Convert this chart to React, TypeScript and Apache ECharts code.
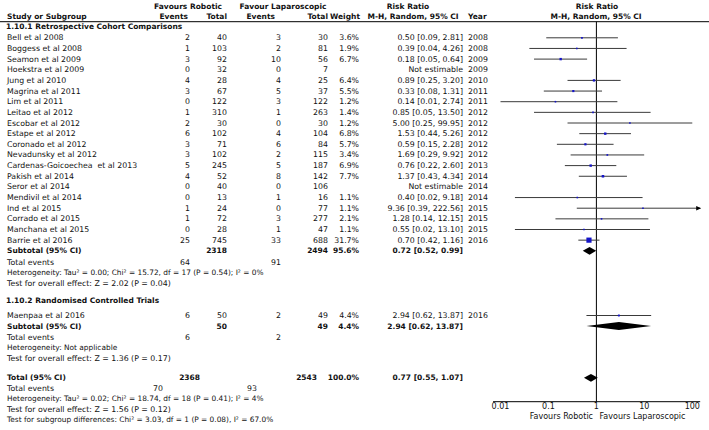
import React, { useEffect, useRef } from "react";
import * as echarts from "echarts";

// ---------- Data ----------
const studies = [
  "Bell et al 2008",
  "Boggess et al 2008",
  "Seamon et al 2009",
  "Hoekstra et al 2009",
  "Jung et al 2010",
  "Magrina et al 2011",
  "Lim et al 2011",
  "Leitao et al 2012",
  "Escobar et al 2012",
  "Estape et al 2012",
  "Coronado et al 2012",
  "Nevadunsky et al 2012",
  "Cardenas-Goicoechea  et al 2013",
  "Pakish et al 2014",
  "Seror et al 2014",
  "Mendivil et al 2014",
  "Ind et al 2015",
  "Corrado et al 2015",
  "Manchana et al 2015",
  "Barrie et al 2016",
];
const eventsRobotic = [2, 1, 3, 0, 4, 3, 0, 1, 2, 6, 3, 3, 5, 4, 0, 0, 1, 1, 0, 25];
const totalRobotic = [40, 103, 92, 32, 28, 67, 122, 310, 30, 102, 71, 102, 245, 52, 40, 13, 24, 72, 28, 745];
const eventsLap = [3, 2, 10, 0, 4, 5, 3, 1, 0, 4, 6, 2, 5, 8, 0, 1, 0, 3, 1, 33];
const totalLap = [30, 81, 56, 7, 25, 37, 122, 263, 30, 104, 84, 115, 187, 142, 106, 16, 77, 277, 47, 688];
const weights = [3.6, 1.9, 6.7, null, 6.4, 5.5, 1.2, 1.4, 1.2, 6.8, 5.7, 3.4, 6.9, 7.7, null, 1.1, 1.1, 2.1, 1.1, 31.7];
const riskRatio = [0.5, 0.39, 0.18, null, 0.89, 0.33, 0.14, 0.85, 5.0, 1.53, 0.59, 1.69, 0.76, 1.37, null, 0.4, 9.36, 1.28, 0.55, 0.7];
const ciLow = [0.09, 0.04, 0.05, null, 0.25, 0.08, 0.01, 0.05, 0.25, 0.44, 0.15, 0.29, 0.22, 0.43, null, 0.02, 0.39, 0.14, 0.02, 0.42];
const ciHigh = [2.81, 4.26, 0.64, null, 3.2, 1.31, 2.74, 13.5, 99.95, 5.26, 2.28, 9.92, 2.6, 4.34, null, 9.18, 222.56, 12.15, 13.1, 1.16];
const years = [2008, 2008, 2009, 2009, 2010, 2011, 2011, 2012, 2012, 2012, 2012, 2012, 2013, 2014, 2014, 2014, 2015, 2015, 2015, 2016];

const rctStudies = ["Maenpaa et al 2016"];
const rctEventsRobotic = [6];
const rctTotalRobotic = [50];
const rctEventsLap = [2];
const rctTotalLap = [49];
const rctWeights = [4.4];
const rctRiskRatio = [2.94];
const rctLow = [0.62];
const rctHigh = [13.87];
const rctYears = [2016];

// summaries: [cohort subtotal, RCT subtotal, overall]
const summaryTotalRobotic = [2318, 50, 2368];
const summaryTotalLap = [2494, 49, 2543];
const summaryWeight = [95.6, 4.4, 100.0];
const summaryRR = [0.72, 2.94, 0.77];
const summaryLow = [0.52, 0.62, 0.55];
const summaryHigh = [0.99, 13.87, 1.07];
const summaryEventsRobotic = [64, 6, 70];
const summaryEventsLap = [91, 2, 93];
const heterogeneityText = [
  "Heterogeneity: Tau² = 0.00; Chi² = 15.72, df = 17 (P = 0.54); I² = 0%",
  "Heterogeneity: Not applicable",
  "Heterogeneity: Tau² = 0.02; Chi² = 18.74, df = 18 (P = 0.41); I² = 4%",
];
const overallEffectText = [
  "Test for overall effect: Z = 2.02 (P = 0.04)",
  "Test for overall effect: Z = 1.36 (P = 0.17)",
  "Test for overall effect: Z = 1.56 (P = 0.12)",
];
const subgroupText = "Test for subgroup differences: Chi² = 3.03, df = 1 (P = 0.08), I² = 67.0%";
const axisTicks = [0.01, 0.1, 1, 10, 100];

// ---------- Layout ----------
const W = 709;
const H = 430;
const AXIS_Y = 401.7;
const PLOT_LEFT = 500.5;
const PLOT_RIGHT = 692.3;
const X_MIN = 0.007; // plot drawing range (axis line extent)
const X_MAX = 146;
const FONT = '"DejaVu Sans", sans-serif';
const FS = 7.8;
const FS_BOLD = 7.5;
const FS_STAT = 7.4;
const TEXT = "#111";

const ROW = {
  head1: 6,
  head2: 16,
  rule: 21.7,
  sec1: 26,
  first: 37.8,
  step: 10.65,
  sub1: 250.8,
  totEv1: 262.3,
  het1: 272.8,
  test1: 283.3,
  sec2: 300.7,
  rct: 315.5,
  sub2: 326,
  totEv2: 337.3,
  het2: 347.8,
  test2: 358.3,
  total: 377.8,
  totEv3: 388.2,
  het3: 398.6,
  test3: 409,
  subgroup: 419.5,
};

const COL = {
  name: 7,
  evR: 190,
  totR: 227,
  evL: 281,
  totL: 328,
  w: 359,
  rr: 463,
  year: 468,
};

const fmt2 = (v: number) => v.toFixed(2);
const ciText = (r: number, l: number, h: number) => `${fmt2(r)} [${fmt2(l)}, ${fmt2(h)}]`;

function txt(text: string | number, x: number, y: number, align = "left", bold = false, size?: number): any {
  const fs = size != null ? size : bold ? FS_BOLD : FS;
  return {
    type: "text",
    x,
    y,
    silent: true,
    style: {
      text: String(text),
      fontSize: fs,
      fontFamily: FONT,
      fontWeight: bold ? "bold" : "normal",
      fill: TEXT,
      align,
      verticalAlign: "middle",
      textAlign: align,
      textVerticalAlign: "middle",
    },
  };
}

function buildGraphics(): any[] {
  const g: any[] = [];
  // header
  g.push(txt("Favours Robotic", 188, ROW.head1, "center", true));
  g.push(txt("Favour Laparoscopic", 283, ROW.head1, "center", true));
  g.push(txt("Risk Ratio", 408, ROW.head1, "center", true));
  g.push(txt("Risk Ratio", 597, ROW.head1, "center", true));
  g.push(txt("Study or Subgroup", COL.name, ROW.head2, "left", true));
  g.push(txt("Events", 188, ROW.head2, "right", true));
  g.push(txt("Total", COL.totR, ROW.head2, "right", true));
  g.push(txt("Events", 275, ROW.head2, "right", true));
  g.push(txt("Total", COL.totL, ROW.head2, "right", true));
  g.push(txt("Weight", 360, ROW.head2, "right", true));
  g.push(txt("M-H, Random, 95% CI", 413, ROW.head2, "center", true));
  g.push(txt("Year", COL.year, ROW.head2, "left", true));
  g.push(txt("M-H, Random, 95% CI", 596, ROW.head2, "center", true));
  g.push({
    type: "line",
    silent: true,
    shape: { x1: 0, y1: ROW.rule, x2: W, y2: ROW.rule },
    style: { stroke: "#000", lineWidth: 1 },
  });

  // section 1
  g.push(txt("1.10.1 Retrospective Cohort Comparisons", COL.name - 1, ROW.sec1, "left", true));
  studies.forEach((s, i) => {
    const y = ROW.first + i * ROW.step;
    g.push(txt(s, COL.name, y));
    g.push(txt(eventsRobotic[i], COL.evR, y, "right"));
    g.push(txt(totalRobotic[i], COL.totR, y, "right"));
    g.push(txt(eventsLap[i], COL.evL, y, "right"));
    g.push(txt(totalLap[i], COL.totL, y, "right"));
    const w = weights[i];
    if (w != null) g.push(txt(w.toFixed(1) + "%", COL.w, y, "right"));
    const r = riskRatio[i];
    if (r != null) g.push(txt(ciText(r, ciLow[i] as number, ciHigh[i] as number), COL.rr, y, "right"));
    else g.push(txt("Not estimable", COL.rr, y, "right"));
    g.push(txt(years[i], COL.year, y));
  });
  const summaryRows = [
    { sub: ROW.sub1, ev: ROW.totEv1, het: ROW.het1, test: ROW.test1, label: "Subtotal (95% CI)" },
    { sub: ROW.sub2, ev: ROW.totEv2, het: ROW.het2, test: ROW.test2, label: "Subtotal (95% CI)" },
  ];

  // section 2
  g.push(txt("1.10.2 Randomised Controlled Trials", COL.name - 1, ROW.sec2, "left", true));
  rctStudies.forEach((s, i) => {
    const y = ROW.rct + i * ROW.step;
    g.push(txt(s, COL.name, y));
    g.push(txt(rctEventsRobotic[i], COL.evR, y, "right"));
    g.push(txt(rctTotalRobotic[i], COL.totR, y, "right"));
    g.push(txt(rctEventsLap[i], COL.evL, y, "right"));
    g.push(txt(rctTotalLap[i], COL.totL, y, "right"));
    g.push(txt(rctWeights[i].toFixed(1) + "%", COL.w, y, "right"));
    g.push(txt(ciText(rctRiskRatio[i], rctLow[i], rctHigh[i]), COL.rr, y, "right"));
    g.push(txt(rctYears[i], COL.year, y));
  });

  summaryRows.forEach((r, k) => {
    g.push(txt(r.label, COL.name, r.sub, "left", true));
    g.push(txt(summaryTotalRobotic[k], COL.totR, r.sub, "right", true));
    g.push(txt(summaryTotalLap[k], COL.totL, r.sub, "right", true));
    g.push(txt(summaryWeight[k].toFixed(1) + "%", COL.w, r.sub, "right", true));
    g.push(txt(ciText(summaryRR[k], summaryLow[k], summaryHigh[k]), COL.rr, r.sub, "right", true));
    g.push(txt("Total events", COL.name, r.ev));
    g.push(txt(summaryEventsRobotic[k], COL.evR, r.ev, "right"));
    g.push(txt(summaryEventsLap[k], COL.evL, r.ev, "right"));
    g.push(txt(heterogeneityText[k], COL.name, r.het, "left", false, FS_STAT));
    g.push(txt(overallEffectText[k], COL.name, r.test));
  });

  // overall
  g.push(txt("Total (95% CI)", COL.name, ROW.total, "left", true));
  g.push(txt(summaryTotalRobotic[2], 200, ROW.total, "right", true));
  g.push(txt(summaryTotalLap[2], 317, ROW.total, "right", true));
  g.push(txt(summaryWeight[2].toFixed(1) + "%", COL.w, ROW.total, "right", true));
  g.push(txt(ciText(summaryRR[2], summaryLow[2], summaryHigh[2]), COL.rr, ROW.total, "right", true));
  g.push(txt("Total events", COL.name, ROW.totEv3));
  g.push(txt(summaryEventsRobotic[2], 163, ROW.totEv3, "right"));
  g.push(txt(summaryEventsLap[2], 257, ROW.totEv3, "right"));
  g.push(txt(heterogeneityText[2], COL.name, ROW.het3, "left", false, FS_STAT));
  g.push(txt(overallEffectText[2], COL.name, ROW.test3));
  g.push(txt(subgroupText, COL.name, ROW.subgroup, "left", false, FS_STAT));

  // axis captions
  g.push(txt("Favours Robotic", 593, 416.7, "right", false, 8));
  g.push(txt("Favours Laparoscopic", 599.5, 416.7, "left", false, 8));
  return g;
}

function buildOption(): any {
  const studyData: any[] = [];
  studies.forEach((_, i) => {
    if (riskRatio[i] != null)
      studyData.push([riskRatio[i], ciLow[i], ciHigh[i], weights[i], ROW.first + i * ROW.step]);
  });
  rctStudies.forEach((_, i) => {
    studyData.push([rctRiskRatio[i], rctLow[i], rctHigh[i], rctWeights[i], ROW.rct + i * ROW.step]);
  });
  const summaryY = [ROW.sub1, ROW.sub2, ROW.total];
  const diamondData = summaryRR.map((r, k) => [r, summaryLow[k], summaryHigh[k], summaryY[k]]);

  return {
    animation: false,
    backgroundColor: "#fff",
    grid: { left: PLOT_LEFT, right: W - PLOT_RIGHT, top: 0, bottom: H - AXIS_Y },
    xAxis: {
      type: "log",
      logBase: 10,
      min: axisTicks[0],
      max: axisTicks[axisTicks.length - 1],
      axisLine: { show: false },
      axisTick: { show: true, inside: true, length: 3, lineStyle: { color: "#000", width: 1 } },
      axisLabel: {
        fontSize: 8,
        fontFamily: FONT,
        color: TEXT,
        margin: 1,
        formatter: (v: number) => {
          const e = Math.round(Math.log10(v));
          return e < 0 ? Math.pow(10, e).toFixed(-e) : String(Math.pow(10, e));
        },
      },
      splitLine: { show: false },
    },
    yAxis: { type: "value", min: 0, max: AXIS_Y, inverse: true, show: false },
    graphic: buildGraphics(),
    series: [
      {
        type: "custom",
        name: "frame",
        clip: false,
        silent: true,
        data: [[1, ROW.rule, AXIS_Y]],
        renderItem: (params: any, api: any) => {
          const top = api.coord([api.value(0), api.value(1)]);
          const bot = api.coord([api.value(0), api.value(2)]);
          const aL = api.coord([X_MIN, AXIS_Y]);
          const aR = api.coord([X_MAX, AXIS_Y]);
          return {
            type: "group",
            children: [
              { type: "line", shape: { x1: top[0], y1: top[1], x2: bot[0], y2: bot[1] }, style: { stroke: "#000", lineWidth: 1 } },
              { type: "line", shape: { x1: aL[0], y1: aL[1], x2: aR[0], y2: aR[1] }, style: { stroke: "#000", lineWidth: 1 } },
            ],
          };
        },
      },
      {
        type: "custom",
        name: "studies",
        clip: false,
        silent: true,
        data: studyData,
        renderItem: (params: any, api: any) => {
          const r = api.value(0), lo = api.value(1), hi = api.value(2), w = api.value(3), y = api.value(4);
          const pL = api.coord([Math.max(lo, X_MIN), y]);
          const pH = api.coord([Math.min(hi, X_MAX), y]);
          const pR = api.coord([r, y]);
          const side = Math.max(1.6, 0.92 * Math.sqrt(w));
          const children: any[] = [
            { type: "line", shape: { x1: pL[0], y1: pL[1], x2: pH[0], y2: pH[1] }, style: { stroke: "#3a3a3a", lineWidth: 1 } },
            { type: "rect", shape: { x: pR[0] - side / 2, y: pR[1] - side / 2, width: side, height: side }, style: { fill: "#1414c8" } },
          ];
          if (hi > X_MAX) {
            children.push({
              type: "polygon",
              shape: { points: [[pH[0] + 1, pH[1]], [pH[0] - 4, pH[1] - 2.2], [pH[0] - 4, pH[1] + 2.2]] },
              style: { fill: "#000" },
            });
          }
          if (lo < X_MIN) {
            children.push({
              type: "polygon",
              shape: { points: [[pL[0] - 1, pL[1]], [pL[0] + 4, pL[1] - 2.2], [pL[0] + 4, pL[1] + 2.2]] },
              style: { fill: "#000" },
            });
          }
          return { type: "group", children };
        },
      },
      {
        type: "custom",
        name: "diamonds",
        clip: false,
        silent: true,
        data: diamondData,
        renderItem: (params: any, api: any) => {
          const r = api.value(0), lo = api.value(1), hi = api.value(2), y = api.value(3);
          const pL = api.coord([lo, y]);
          const pH = api.coord([hi, y]);
          const pR = api.coord([r, y]);
          const h = 3.9;
          return {
            type: "polygon",
            shape: { points: [[pL[0], pL[1]], [pR[0], pR[1] - h], [pH[0], pH[1]], [pR[0], pR[1] + h]] },
            style: { fill: "#000" },
          };
        },
      },
    ],
  };
}

export default function App() {
  const ref = useRef<HTMLDivElement>(null);
  useEffect(() => {
    if (!ref.current) return;
    const chart = echarts.init(ref.current, null, { renderer: "svg" });
    chart.setOption(buildOption());
    return () => chart.dispose();
  }, []);
  return (
    <div
      ref={ref}
      style={{ position: "fixed", left: 0, top: 0, width: W, height: H, background: "#fff" }}
    />
  );
}
